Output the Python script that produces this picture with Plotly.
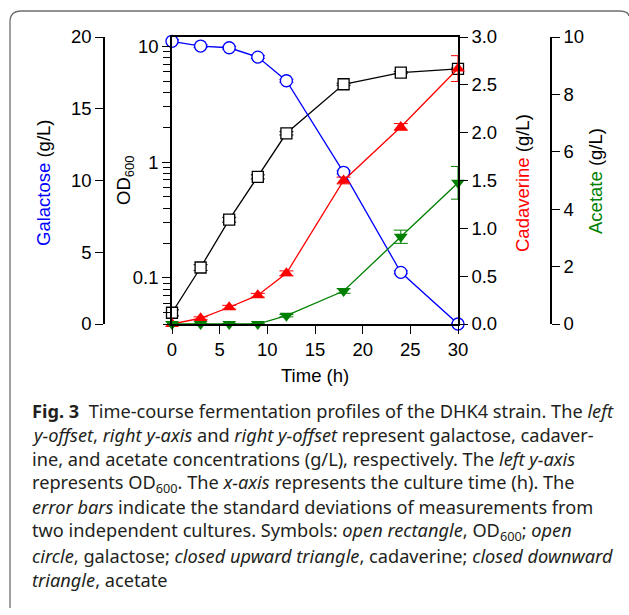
import plotly.graph_objects as go
import math

# ---------------- data ----------------
time_h = [0, 3, 6, 9, 12, 18, 24, 30]
od600 = [0.050, 0.123, 0.318, 0.745, 1.77, 4.69, 5.91, 6.36]
od600_err = [0.003, 0.007, 0.015, 0.03, 0.06, 0.10, 0.12, 0.12]
galactose = [19.7, 19.37, 19.25, 18.6, 16.95, 10.57, 3.6, 0.0]
galactose_err = [0.1, 0.1, 0.1, 0.1, 0.1, 0.1, 0.1, 0.05]
cadaverine = [0.0, 0.06, 0.175, 0.30, 0.53, 1.50, 2.06, 2.67]
cadaverine_err = [0.01, 0.015, 0.02, 0.02, 0.025, 0.035, 0.035, 0.135]
acetate = [0.0, 0.0, 0.0, 0.0, 0.29, 1.15, 3.04, 4.92]
acetate_err = [0.02, 0.02, 0.02, 0.02, 0.04, 0.08, 0.23, 0.57]

x_ticks = [0, 5, 10, 15, 20, 25, 30]
gal_ticks = [0, 5, 10, 15, 20]
cad_ticks = [0.0, 0.5, 1.0, 1.5, 2.0, 2.5, 3.0]
ace_ticks = [0, 2, 4, 6, 8, 10]
od_major = [0.1, 1, 10]
od_minor = [0.04, 0.05, 0.06, 0.07, 0.08, 0.09,
            0.2, 0.3, 0.4, 0.5, 0.6, 0.7, 0.8, 0.9,
            2, 3, 4, 5, 6, 7, 8, 9]

caption_lines = [
    "<b>Fig. 3</b>&nbsp; Time-course fermentation profiles of the DHK4 strain. The <i>left</i>",
    "<i>y-offset</i>, <i>right y-axis</i> and <i>right y-offset</i> represent galactose, cadaver-",
    "ine, and acetate concentrations (g/L), respectively. The <i>left y-axis</i>",
    "represents OD<sub>600</sub>. The <i>x-axis</i> represents the culture time (h). The",
    "<i>error bars</i> indicate the standard deviations of measurements from",
    "two independent cultures. Symbols: <i>open rectangle</i>, OD<sub>600</sub>; <i>open</i>",
    "<i>circle</i>, galactose; <i>closed upward triangle</i>, cadaverine; <i>closed downward</i>",
    "<i>triangle</i>, acetate",
]

# ---------------- layout geometry ----------------
W, H = 629, 615
def px(x):
    return x / W
def py(y):
    return 1 - y / H

x_dom = [px(172), px(458)]
y_dom = [py(324), py(37)]

AX_FONT = dict(family="Liberation Sans, Arial, sans-serif", size=18.5, color="black")
BLUE, RED, GREEN = "#0000ff", "#ff0000", "#008000"

fig = go.Figure()

fig.add_trace(go.Scatter(
    x=time_h, y=od600, yaxis="y", mode="lines+markers",
    line=dict(color="black", width=1.3),
    marker=dict(symbol="square", size=11, color="white", line=dict(color="black", width=1.3)),
    error_y=dict(type="data", array=od600_err, color="black", thickness=1, width=7),
    cliponaxis=False, showlegend=False))

fig.add_trace(go.Scatter(
    x=time_h, y=galactose, yaxis="y2", mode="lines+markers",
    line=dict(color=BLUE, width=1.3),
    marker=dict(symbol="circle", size=12, color="white", line=dict(color=BLUE, width=1.3)),
    error_y=dict(type="data", array=galactose_err, color=BLUE, thickness=1, width=7),
    cliponaxis=False, showlegend=False))

fig.add_trace(go.Scatter(
    x=time_h, y=cadaverine, yaxis="y3", mode="lines+markers",
    line=dict(color=RED, width=1.3),
    marker=dict(symbol="triangle-up", size=12, color=RED),
    error_y=dict(type="data", array=cadaverine_err, color=RED, thickness=1, width=7),
    cliponaxis=False, showlegend=False))

fig.add_trace(go.Scatter(
    x=time_h, y=acetate, yaxis="y4", mode="lines+markers",
    line=dict(color=GREEN, width=1.3),
    marker=dict(symbol="triangle-down", size=12, color=GREEN),
    error_y=dict(type="data", array=acetate_err, color=GREEN, thickness=1, width=7),
    cliponaxis=False, showlegend=False))

common = dict(showline=True, linecolor="black", linewidth=1.5, ticks="outside",
              ticklen=8, tickwidth=1.3, tickcolor="black", showgrid=False,
              zeroline=False, tickfont=AX_FONT, automargin=False)

fig.update_layout(
    template="none",
    width=W, height=H,
    margin=dict(l=0, r=0, t=0, b=0, pad=0),
    paper_bgcolor="white", plot_bgcolor="white",
    xaxis=dict(domain=x_dom, range=[0, 30], tickvals=x_ticks, mirror=True, **common),
    yaxis=dict(type="log", range=[math.log10(0.04), math.log10(12)],
               tickvals=od_major, ticktext=["0.1", "1", "10"], anchor="x", side="left",
               domain=y_dom,
               minor=dict(tickvals=od_minor, ticks="outside", ticklen=7,
                          tickwidth=1.2, tickcolor="black", showgrid=False),
               **common),
    yaxis2=dict(range=[0, 20], tickvals=gal_ticks, overlaying="y", side="left",
                anchor="free", position=px(104), **common),
    yaxis3=dict(range=[0, 3.0], tickvals=cad_ticks, tickformat=".1f", overlaying="y",
                side="right", anchor="x", **common),
    yaxis4=dict(range=[0, 10], tickvals=ace_ticks, overlaying="y", side="right",
                anchor="free", position=px(551), **common),
)

# axis titles
fig.add_annotation(x=px(315), y=py(376), xref="paper", yref="paper", showarrow=False,
                   text="Time (h)", font=AX_FONT, xanchor="center", yanchor="middle")
fig.add_annotation(x=px(125), y=py(181), xref="paper", yref="paper", showarrow=False,
                   text="OD<sub>600</sub>", font=AX_FONT, textangle=-90,
                   xanchor="center", yanchor="middle")
fig.add_annotation(x=px(43), y=py(183), xref="paper", yref="paper", showarrow=False,
                   text="<span style='color:%s'>Galactose</span> (g/L)" % BLUE, font=AX_FONT,
                   textangle=-90, xanchor="center", yanchor="middle")
fig.add_annotation(x=px(522), y=py(183), xref="paper", yref="paper", showarrow=False,
                   text="<span style='color:%s'>Cadaverine</span> (g/L)" % RED, font=AX_FONT,
                   textangle=-90, xanchor="center", yanchor="middle")
fig.add_annotation(x=px(595), y=py(181), xref="paper", yref="paper", showarrow=False,
                   text="<span style='color:%s'>Acetate</span> (g/L)" % GREEN, font=AX_FONT,
                   textangle=-90, xanchor="center", yanchor="middle")

# caption
CAP_FONT = dict(family="Noto Sans, Lato, sans-serif", size=18.2, color="#231f20")
for i, line in enumerate(caption_lines):
    fig.add_annotation(x=px(30), y=py(411 + 24.1 * i), xref="paper", yref="paper",
                       showarrow=False, text=line, font=CAP_FONT,
                       xanchor="left", yanchor="middle", align="left")

# frame around figure (left + top with rounded corners)
def P(x, y):
    return "%f %f" % (px(x), py(y))
path = ("M " + P(10, 608) + " L " + P(10, 22) + " Q " + P(10, 11) + " " + P(21, 11) +
        " L " + P(619, 11) + " Q " + P(628, 11) + " " + P(629, 16))
fig.add_shape(type="path", path=path, xref="paper", yref="paper",
              line=dict(color="#6d6e70", width=1.3))

fig.write_html("out.html",
               config={"displayModeBar": False},
               post_script="document.body.style.margin='0';document.body.style.overflow='hidden';")
